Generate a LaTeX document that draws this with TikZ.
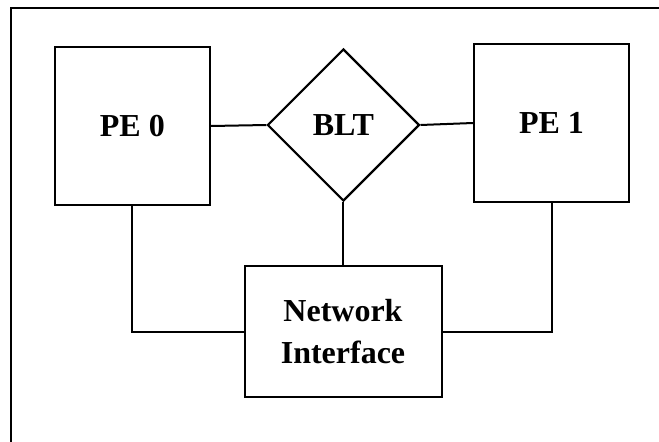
\documentclass[tikz,border=0pt]{standalone}
\usepackage{fontspec}
\setmainfont{Liberation Serif}
\usetikzlibrary{shapes.geometric}
\begin{document}
\begin{tikzpicture}[x=1pt,y=-1pt,
  wire/.style={line width=2pt},
  box/.style={draw,line width=2pt,rectangle,inner sep=0pt,font=\bfseries\fontsize{32}{42}\selectfont},
  dia/.style={draw,line width=2.2pt,diamond,aspect=1,inner sep=0pt,minimum width=152pt,minimum height=152pt,font=\bfseries\fontsize{32}{42}\selectfont}]
\useasboundingbox (0,0) rectangle (659,442);
\fill[white] (0,0) rectangle (659,442);
\coordinate (fbl) at (11,442);
\coordinate (ftl) at (11,8);
\coordinate (ftr) at (659,8);
\draw[wire] (fbl) -- (ftl) -- (ftr);
\node[box,minimum width=155pt,minimum height=158pt] (pe0) at (132.3,126) {PE 0};
\node[box,minimum width=155pt,minimum height=158pt] (pe1) at (551.5,123) {PE 1};
\node[dia] (blt) at (343.4,125) {BLT};
\node[box,minimum width=197pt,minimum height=131pt,align=center] (ni) at (343,331.5) {Network\\Interface};
\draw[wire] (pe0.east) -- (blt.west);
\draw[wire] (blt.east) -- (pe1.west);
\draw[wire] (blt.south) -- (ni.north -| blt.south);
\draw[wire] (pe0.south) |- (ni.west);
\draw[wire] (pe1.south) |- (ni.east);
\end{tikzpicture}
\end{document}
